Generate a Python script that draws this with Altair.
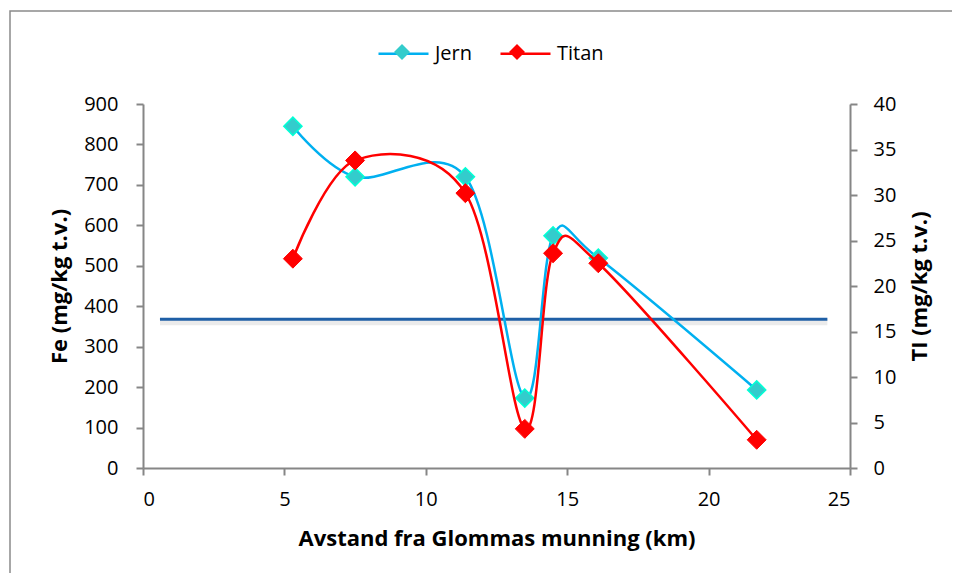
import altair as alt
import pandas as pd

# distance from Glomma's mouth (km)
km = [5.3, 7.5, 11.4, 13.5, 14.5, 16.1, 21.7]
# Jern (Fe, mg/kg t.v.) - left axis
fe = [845, 720, 720, 173, 574, 519, 193]
# Titan (Ti, mg/kg t.v.) - right axis
ti = [23.0, 33.8, 30.2, 4.3, 23.6, 22.5, 3.1]

series_names = ["Jern", "Titan"]
# horizontal reference line (Fe)
ref_km = [0.6, 24.2]
ref_fe = 368

font = "Open Sans"

n = len(km)
df = pd.DataFrame({
    "km": km * 2,
    "value": fe + ti,
    "series": ["Jern"] * n + ["Titan"] * n,
    "series_pt": ["Jern_p"] * n + ["Titan_p"] * n,
})
ref_df = pd.DataFrame({"x1": [ref_km[0]], "x2": [ref_km[1]], "y": [ref_fe]})

xscale = alt.Scale(domain=[0, 25], nice=False)
xenc = alt.X("km:Q", scale=xscale,
             axis=alt.Axis(values=[0, 5, 10, 15, 20, 25], title="Avstand fra Glommas munning (km)",
                           titlePadding=19, labelPadding=14))

stroke_scale = alt.Scale(domain=series_names, range=["#00B0F0", "#FF0000"])
fill_scale = alt.Scale(domain=[s + "_p" for s in series_names], range=["#33CCCC", "#FF0000"])
leg_common = dict(
    title=None, orient="none", legendX=234, legendY=-77, direction="horizontal",
    symbolSize=2500, labelFont=font, labelFontSize=20, labelColor="black",
    padding=0, symbolOpacity=1,
)
line_legend = alt.Legend(symbolType="M-1,0L1,0", symbolStrokeWidth=2.5,
                         labelOffset=5, columnPadding=22, **leg_common)
# diamonds only, drawn over the line symbols (no labels of its own)
pt_legend = alt.Legend(symbolType="M0,-0.32L0.32,0L0,0.32L-0.32,0Z", symbolStrokeWidth=0,
                       labelExpr="''", labelOffset=0, columnPadding=65, **leg_common)

frame = alt.Chart(alt.Data(values=[{"a": 1}])).mark_rect(
    fillOpacity=0, stroke="#8a8a8a", strokeWidth=1.5
).encode(x=alt.value(-133), x2=alt.value(900), y=alt.value(-93), y2=alt.value(560))

yleft = alt.Scale(domain=[0, 900], nice=False)
ref_shadow = alt.Chart(ref_df).mark_rule(color="#000000", opacity=0.08, strokeWidth=6, yOffset=3).encode(
    x=alt.X("x1:Q", scale=xscale), x2="x2:Q", y=alt.Y("y:Q", scale=yleft))
ref_line = alt.Chart(ref_df).mark_rule(color="#1F5FA6", strokeWidth=3).encode(
    x=alt.X("x1:Q", scale=xscale), x2="x2:Q", y=alt.Y("y:Q", scale=yleft))

base = alt.Chart(df)
jern = base.transform_filter(alt.datum.series == "Jern")
titan = base.transform_filter(alt.datum.series == "Titan")

yl = alt.Y("value:Q", scale=yleft,
           axis=alt.Axis(values=list(range(0, 901, 100)), title="Fe (mg/kg t.v.)",
                         titlePadding=12, labelPadding=18, orient="left"))
yr = alt.Y("value:Q", scale=alt.Scale(domain=[0, 40], nice=False),
           axis=alt.Axis(values=list(range(0, 41, 5)), title="TI (mg/kg t.v.)",
                         titlePadding=14, labelPadding=16, orient="right", titleAngle=270,
                         titleBaseline="top"))

jern_line = jern.mark_line(interpolate="cardinal", strokeWidth=2.5).encode(
    x=xenc, y=yl, stroke=alt.Stroke("series:N", scale=stroke_scale, legend=line_legend))
jern_pts = jern.mark_point(shape="diamond", filled=True, size=330, stroke="#00FFD5",
                           strokeWidth=1.5, opacity=1).encode(
    x=xenc, y=yl, fill=alt.Fill("series_pt:N", scale=fill_scale, legend=pt_legend))
titan_line = titan.mark_line(interpolate="cardinal", strokeWidth=2.5).encode(
    x=xenc, y=yr, stroke=alt.Stroke("series:N", scale=stroke_scale, legend=line_legend))
titan_pts = titan.mark_point(shape="diamond", filled=True, size=360, stroke="#FF0000",
                             strokeWidth=1, opacity=1).encode(
    x=xenc, y=yr, fill=alt.Fill("series_pt:N", scale=fill_scale, legend=pt_legend))

left_group = alt.layer(frame, ref_shadow, ref_line, jern_line, jern_pts)
right_group = alt.layer(titan_line, titan_pts)

chart = alt.layer(left_group, right_group).resolve_scale(y="independent").properties(
    width=707, height=364,
    autosize=alt.AutoSizeParams(type="none"),
    padding={"left": 135, "top": 96, "right": 102, "bottom": 105},
).configure_view(stroke=None).configure_axis(
    labelFont=font, labelFontSize=20, labelColor="black",
    titleFont=font, titleFontSize=22, titleFontWeight="bold", titleColor="black",
    domainColor="#868686", domainWidth=2, tickColor="#868686", tickWidth=2, tickSize=7,
    grid=False,
)

chart.save("out.html", embed_options={"renderer": "svg", "actions": False})
